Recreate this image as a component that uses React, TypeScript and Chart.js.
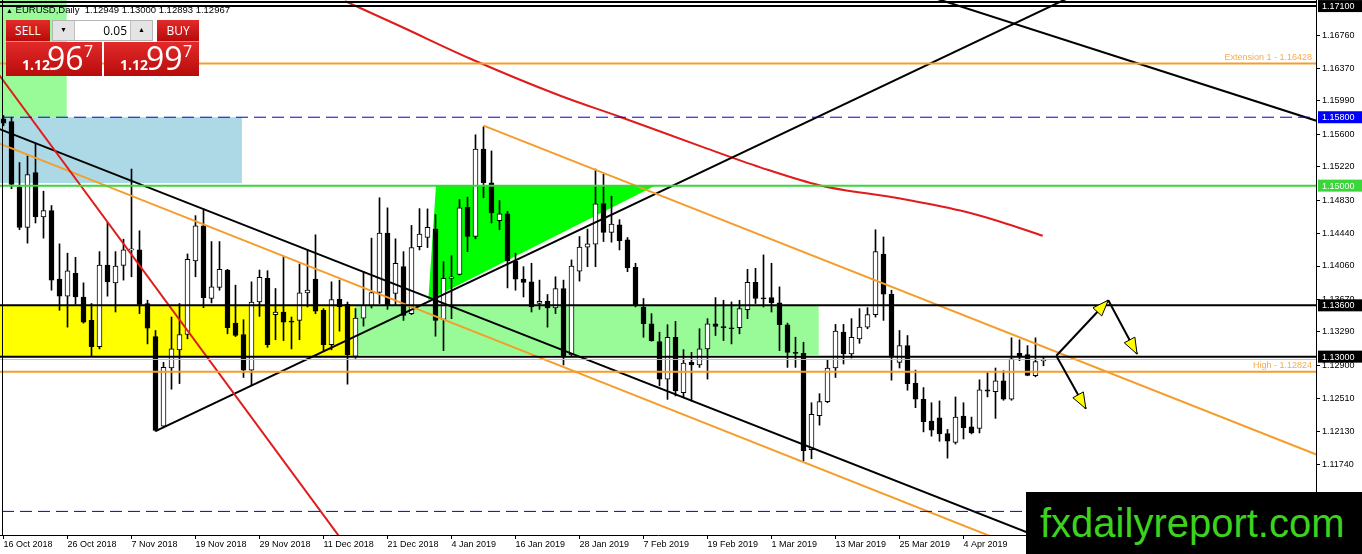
import { useEffect, useRef } from 'react';
import { Chart, registerables } from 'chart.js';

Chart.register(...registerables);

// EURUSD daily bars, 16 Oct 2018 .. 18 Apr 2019
const opens = [
  1.1578, 1.15748, 1.14987, 1.14511, 1.15152, 1.14634, 1.14708, 1.13907, 1.13707, 1.13974,
  1.13698, 1.13424, 1.13118, 1.14072, 1.13863, 1.14068, 1.14248, 1.14248, 1.13621, 1.13235,
  1.12187, 1.12867, 1.13079, 1.13259, 1.14119, 1.14531, 1.1368, 1.13809, 1.14013, 1.13392,
  1.13259, 1.12843, 1.13639, 1.13915, 1.13491, 1.13522, 1.1341, 1.13424, 1.13745, 1.13907,
  1.13542, 1.13141, 1.13671, 1.13612, 1.13003, 1.13451, 1.13593, 1.1375, 1.14445, 1.13738,
  1.14052, 1.13503, 1.14287, 1.14393, 1.14492, 1.13436, 1.13915, 1.13962, 1.14747, 1.14405,
  1.15427, 1.15034, 1.1459, 1.14669, 1.14119, 1.13907, 1.13875, 1.13621, 1.13648, 1.13569,
  1.13797, 1.1302, 1.14001, 1.1428, 1.14316, 1.1479, 1.14452, 1.14543, 1.14366, 1.14045,
  1.13581, 1.13385, 1.13177, 1.12737, 1.13227, 1.12579, 1.12933, 1.12902, 1.1309, 1.13385,
  1.13353, 1.13338, 1.13338, 1.1355, 1.13868, 1.1368, 1.13691, 1.13628, 1.13373, 1.1305,
  1.13039, 1.11913, 1.1231, 1.12473, 1.12867, 1.13286, 1.13032, 1.13208, 1.13345, 1.13491,
  1.142, 1.1373, 1.12933, 1.13129, 1.12689, 1.12502, 1.12246, 1.12285, 1.12101, 1.11998,
  1.12305, 1.12179, 1.1216, 1.12611, 1.12591, 1.12717, 1.12502, 1.13039, 1.13023, 1.12776,
  1.12949,
];
const highs = [
  1.1582, 1.158, 1.1527, 1.15348, 1.15485, 1.14935, 1.14767, 1.14319, 1.1421, 1.14162,
  1.13863, 1.13621, 1.14228, 1.1457, 1.14228, 1.14374, 1.15194, 1.14472, 1.1366, 1.13306,
  1.12933, 1.13463, 1.13621, 1.14201, 1.14649, 1.14728, 1.14346, 1.14346, 1.14021, 1.13836,
  1.13432, 1.13875, 1.14013, 1.14005, 1.13797, 1.1417, 1.13463, 1.14084, 1.14248, 1.14425,
  1.13562, 1.13875, 1.13895, 1.13639, 1.13562, 1.13993, 1.14386, 1.14858, 1.1474, 1.14378,
  1.14228, 1.14535, 1.14731, 1.14728, 1.14661, 1.14111, 1.14181, 1.14837, 1.14865, 1.15595,
  1.15689, 1.15406, 1.14826, 1.14699, 1.1421, 1.14052, 1.14092, 1.13895, 1.13727, 1.13934,
  1.13895, 1.14131, 1.14405, 1.14492, 1.15194, 1.15132, 1.14876, 1.14602, 1.14393, 1.14092,
  1.1368, 1.13503, 1.13286, 1.13373, 1.13412, 1.13082, 1.1305, 1.13326, 1.13444, 1.13691,
  1.1366, 1.1364, 1.1366, 1.14021, 1.14033, 1.1419, 1.14092, 1.13816, 1.13392, 1.13227,
  1.13168, 1.12461, 1.12567, 1.12963, 1.13377, 1.13377, 1.13444, 1.13562, 1.13573, 1.14484,
  1.144, 1.13777, 1.13306, 1.13247, 1.12843, 1.12638, 1.12461, 1.12482, 1.12148, 1.12529,
  1.12461, 1.12293, 1.12729, 1.12815, 1.12867, 1.12835, 1.1322, 1.13197, 1.13129, 1.1322,
  1.13,
];
const lows = [
  1.157, 1.14964, 1.14484, 1.14327, 1.14563, 1.14386, 1.13777, 1.13542, 1.13345, 1.13612,
  1.13392, 1.13012, 1.1309, 1.13707, 1.13522, 1.13895, 1.13934, 1.13503, 1.13149, 1.12128,
  1.12175, 1.12619, 1.12685, 1.13208, 1.13934, 1.13573, 1.13628, 1.13777, 1.13267, 1.13235,
  1.12756, 1.1267, 1.13471, 1.13109, 1.13197, 1.13188, 1.1309, 1.13197, 1.13581, 1.13503,
  1.13071, 1.13079, 1.13298, 1.12678, 1.1298, 1.13357, 1.13569, 1.13621, 1.13553, 1.13609,
  1.13424, 1.13491, 1.14248, 1.14276, 1.13239, 1.13071, 1.13444, 1.13954, 1.14228, 1.14378,
  1.14858, 1.14563, 1.14484, 1.13804, 1.13777, 1.13698, 1.13522, 1.13553, 1.13345, 1.13503,
  1.12902, 1.13012, 1.13883, 1.14052, 1.14052, 1.14346, 1.14339, 1.14248, 1.13993, 1.13581,
  1.13227, 1.1318, 1.12658, 1.125, 1.1254, 1.1252, 1.12481, 1.12874, 1.12737, 1.13247,
  1.13188, 1.13149, 1.13267, 1.13444, 1.13621, 1.13581, 1.13522, 1.13071, 1.12874, 1.12874,
  1.11783, 1.11806, 1.12199, 1.12461, 1.12756, 1.12914, 1.12984, 1.13156, 1.13326, 1.13463,
  1.13424, 1.12725, 1.12867, 1.12607, 1.12403, 1.1212, 1.1207, 1.1201, 1.11813, 1.11978,
  1.12037, 1.12096, 1.12108, 1.12529, 1.12278, 1.1249, 1.1249, 1.12953, 1.12776, 1.12764,
  1.12893,
];
const closes = [
  1.1573, 1.15014, 1.14511, 1.15128, 1.14634, 1.14708, 1.13895, 1.13707, 1.14005, 1.13698,
  1.13404, 1.13118, 1.14072, 1.13875, 1.1406, 1.14248, 1.1425, 1.13612, 1.13333, 1.12136,
  1.12874, 1.1309, 1.13259, 1.14139, 1.14531, 1.13691, 1.13816, 1.14021, 1.13338, 1.13247,
  1.12843, 1.13639, 1.13927, 1.13141, 1.13522, 1.13404, 1.13404, 1.13745, 1.13777, 1.13533,
  1.13141, 1.13668, 1.13581, 1.13023, 1.13451, 1.13601, 1.1375, 1.14445, 1.13609, 1.14092,
  1.13483, 1.14276, 1.14433, 1.14511, 1.13424, 1.13915, 1.13934, 1.1474, 1.14405, 1.15427,
  1.15034, 1.14681, 1.14669, 1.14119, 1.13907, 1.13868, 1.13581, 1.13648, 1.13569, 1.13797,
  1.13012, 1.1406, 1.1428, 1.14319, 1.14787, 1.14452, 1.14551, 1.14355, 1.1404, 1.13609,
  1.13385, 1.13188, 1.12737, 1.13227, 1.12599, 1.12926, 1.12902, 1.1309, 1.13385, 1.13353,
  1.13338, 1.13326, 1.13562, 1.13868, 1.1368, 1.13675, 1.13628, 1.13373, 1.1305, 1.13039,
  1.11901, 1.12325, 1.12473, 1.12867, 1.13298, 1.13032, 1.13227, 1.13345, 1.13491, 1.14228,
  1.1373, 1.13, 1.13129, 1.12685, 1.12502, 1.12238, 1.1214, 1.12096, 1.1201, 1.12293,
  1.1217, 1.12108, 1.12611, 1.12596, 1.12717, 1.12502, 1.12973, 1.13012, 1.1278, 1.12941,
  1.12967,
];

// one date label every 8 bars
const dateTicks = [
  '16 Oct 2018', '26 Oct 2018', '7 Nov 2018', '19 Nov 2018', '29 Nov 2018', '11 Dec 2018',
  '21 Dec 2018', '4 Jan 2019', '16 Jan 2019', '28 Jan 2019', '7 Feb 2019', '19 Feb 2019',
  '1 Mar 2019', '13 Mar 2019', '25 Mar 2019', '4 Apr 2019', '16 Apr 2019',
];
const priceTicks = [
  1.1676, 1.1637, 1.1599, 1.156, 1.1522, 1.1483, 1.1444, 1.1406, 1.1367, 1.1329, 1.129,
  1.1251, 1.1213, 1.1174, 1.1136,
];

// horizontal levels: top, fibo extension, dashed, 1.15, 1.136, 1.13, bid, high, dashed
const levelPrices = [1.171, 1.16428, 1.158, 1.15, 1.136, 1.13, 1.12967, 1.12824, 1.1119];
const boxedPrices = [1.171, 1.158, 1.15, 1.136, 1.13];

// trendlines as [barA, priceA, barB, priceB]
const trendLines = [
  [1.65, 1.16015, 22.06, 1.13424],
  [0, 1.15643, 65.8, 1.13227],
  [0, 1.15474, 87.06, 1.12246],
  [60, 1.15701, 164.06, 1.11857],
  [19, 1.12128, 133.06, 1.17193],
  [116.4, 1.17193, 164.06, 1.1576],
];
// 200-day moving average, read at a few bars
const maBars = [42.7, 49.6, 58.3, 69.6, 77.1, 87.1, 94.6, 102.1, 112.1, 119.6, 124.6, 129.9];
const maValues = [1.17158, 1.16864, 1.16487, 1.16051, 1.15803, 1.15462, 1.15214, 1.15002, 1.14849, 1.14708, 1.14578, 1.14413];

// rectangles as [barFrom, barTo, priceTop, priceBottom]
const zones = [
  [-1, 7.9, 1.175, 1.158],
  [-1, 29.8, 1.158, 1.1503],
  [-1, 43.9, 1.136, 1.13],
  [43.9, 101.9, 1.136, 1.1302],
];
const triangle = [[54.06, 1.15], [81.44, 1.15], [53.1, 1.1366]];
const arrows = [
  [131.6, 1.1301, 138.1, 1.1366],
  [138.1, 1.1366, 141.7, 1.1303],
  [131.6, 1.1301, 135.3, 1.1239],
];

const ORANGE = '#f59d2a';
const BLUE = '#0000d0';
const GREEN = '#3ad63a';
const RED = '#e01b1b';
const axisFont = { family: 'Liberation Sans', size: 9 };

export default function App() {
  const canvasRef = useRef<HTMLCanvasElement>(null);

  useEffect(() => {
    if (!canvasRef.current) return;
    const bars = opens.map((_, i) => i);
    const xMin = -0.4375;
    const xMax = 164.0625;

    const levelStyles = [
      { color: '#000', width: 2 },
      { color: ORANGE, width: 2 },
      { color: BLUE, width: 1, dash: [12, 6] },
      { color: GREEN, width: 2 },
      { color: '#000', width: 2 },
      { color: '#000', width: 2 },
      { color: '#c0c0c0', width: 1 },
      { color: ORANGE, width: 2 },
      { color: BLUE, width: 1, dash: [12, 6] },
    ];
    const trendColors = [RED, '#000', ORANGE, ORANGE, '#000', '#000'];
    const rayStart = [false, false, false, true, true, false];
    const zoneColors = ['#98fb98', '#add8e6', '#ffff00', '#98fb98'];
    const boxColors = ['#000', '#0000ff', GREEN, '#000', '#000'];

    const lineDs = (data: any[], color: string, width: number, extra: any = {}) => ({
      type: 'line', data, borderColor: color, borderWidth: width, pointRadius: 0,
      fill: false, tension: 0, order: 1, ...extra,
    });

    const datasets: any[] = [
      {
        type: 'bar',
        data: bars.map(i => ({ x: i, y: [lows[i], highs[i]] })),
        backgroundColor: '#000', borderWidth: 0, barThickness: 1, grouped: false, order: 3,
      },
      {
        type: 'bar',
        data: bars.map(i => ({ x: i, y: [Math.min(opens[i], closes[i]), Math.max(opens[i], closes[i])] })),
        backgroundColor: bars.map(i => (closes[i] >= opens[i] ? '#fff' : '#000')),
        borderColor: '#000', borderWidth: 1, borderSkipped: false, barThickness: 5,
        minBarLength: 1, grouped: false, order: 2,
      },
    ];

    levelPrices.forEach((p, k) => {
      const s = levelStyles[k];
      datasets.push(lineDs([{ x: xMin - 2, y: p }, { x: xMax + 2, y: p }], s.color, s.width, { borderDash: s.dash || [] }));
    });

    trendLines.forEach(([a, pa, b, pb], k) => {
      const slope = (pb - pa) / (b - a);
      const from = rayStart[k] ? a : -10;
      const to = 175;
      datasets.push(lineDs([
        { x: from, y: pa + (from - a) * slope },
        { x: to, y: pa + (to - a) * slope },
      ], trendColors[k], 2));
    });

    datasets.push(lineDs(maBars.map((b, k) => ({ x: b, y: maValues[k] })), RED, 2, { cubicInterpolationMode: 'monotone' }));

    const drawings = {
      id: 'drawings',
      beforeDatasetsDraw(chart: any) {
        const { ctx, chartArea: a, scales: { x, y } } = chart;
        ctx.save();
        ctx.beginPath();
        ctx.rect(a.left, a.top, a.width, a.height);
        ctx.clip();
        zones.forEach(([b0, b1, p0, p1], k) => {
          const x0 = x.getPixelForValue(b0);
          const x1 = x.getPixelForValue(b1);
          const y0 = y.getPixelForValue(p0);
          const y1 = y.getPixelForValue(p1);
          ctx.fillStyle = zoneColors[k];
          ctx.fillRect(x0, y0, x1 - x0, y1 - y0);
        });
        ctx.fillStyle = '#00ff00';
        ctx.beginPath();
        triangle.forEach(([b, p], k) => {
          const px = x.getPixelForValue(b);
          const py = y.getPixelForValue(p);
          if (k === 0) ctx.moveTo(px, py); else ctx.lineTo(px, py);
        });
        ctx.closePath();
        ctx.fill();
        ctx.restore();
      },
      afterDatasetsDraw(chart: any) {
        const { ctx, chartArea: a, scales: { x, y } } = chart;
        ctx.save();
        arrows.forEach(([b0, p0, b1, p1]) => {
          const x0 = x.getPixelForValue(b0);
          const y0 = y.getPixelForValue(p0);
          const x1 = x.getPixelForValue(b1);
          const y1 = y.getPixelForValue(p1);
          ctx.strokeStyle = '#000';
          ctx.lineWidth = 2;
          ctx.beginPath();
          ctx.moveTo(x0, y0);
          ctx.lineTo(x1, y1);
          ctx.stroke();
          const ang = Math.atan2(y1 - y0, x1 - x0);
          const bx = x1 - 16 * Math.cos(ang);
          const by = y1 - 16 * Math.sin(ang);
          const w = 6;
          ctx.beginPath();
          ctx.moveTo(x1, y1);
          ctx.lineTo(bx + w * Math.sin(ang), by - w * Math.cos(ang));
          ctx.lineTo(bx - w * Math.sin(ang), by + w * Math.cos(ang));
          ctx.closePath();
          ctx.fillStyle = '#ffff00';
          ctx.fill();
          ctx.lineWidth = 1;
          ctx.stroke();
        });
        ctx.font = '9px "Liberation Sans"';
        ctx.fillStyle = '#f2ac4e';
        ctx.textAlign = 'right';
        ctx.textBaseline = 'alphabetic';
        ctx.fillText('Extension 1 - ' + levelPrices[1].toFixed(5), a.right - 4, y.getPixelForValue(levelPrices[1]) - 4);
        ctx.fillText('High - ' + levelPrices[7].toFixed(5), a.right - 4, y.getPixelForValue(levelPrices[7]) - 4);
        ctx.restore();
      },
      afterDraw(chart: any) {
        const { ctx, chartArea: a, scales: { y } } = chart;
        ctx.save();
        ctx.fillStyle = '#000';
        ctx.fillRect(a.left, 1, a.right - a.left, 2);
        ctx.fillRect(2, a.top, 1, a.bottom - a.top);
        ctx.font = '9px "Liberation Sans"';
        ctx.textAlign = 'left';
        ctx.textBaseline = 'middle';
        boxedPrices.forEach((p, k) => {
          const py = y.getPixelForValue(p);
          const top = Math.max(0, py - 6);
          ctx.fillStyle = boxColors[k];
          ctx.fillRect(a.right + 2, top, chart.width - a.right - 2, 12);
          ctx.fillStyle = '#fff';
          ctx.fillText(p.toFixed(5), a.right + 6, top + 6.5);
        });
        ctx.restore();
      },
    };

    const chart = new Chart(canvasRef.current, {
      type: 'bar',
      data: { datasets },
      options: {
        responsive: false,
        animation: false,
        events: [],
        layout: { padding: 0 },
        plugins: { legend: { display: false }, tooltip: { enabled: false } },
        scales: {
          x: {
            type: 'linear',
            min: xMin,
            max: xMax,
            offset: false,
            afterBuildTicks: (s: any) => { s.ticks = dateTicks.map((_, k) => ({ value: k * 8 })); },
            afterFit: (s: any) => { s.height = 19; s.paddingLeft = 0; s.paddingRight = 0; },
            ticks: {
              autoSkip: false, maxRotation: 0, align: 'start', padding: 0, color: '#000', font: axisFont,
              callback: (v: any) => dateTicks[Math.round(Number(v) / 8)] ?? '',
            },
            grid: { drawOnChartArea: false, offset: false, tickLength: 4, color: '#000' },
            border: { color: '#000' },
          },
          y: {
            type: 'linear',
            position: 'right',
            min: 1.10914,
            max: 1.17171,
            afterBuildTicks: (s: any) => { s.ticks = priceTicks.map(value => ({ value })); },
            afterFit: (s: any) => { s.width = 46; s.paddingTop = 0; s.paddingBottom = 0; },
            ticks: {
              autoSkip: false, padding: 2, color: '#000', font: axisFont,
              callback: (v: any) => Number(v).toFixed(5),
            },
            grid: { drawOnChartArea: false, tickLength: 4, color: '#000' },
            border: { color: '#000' },
          },
        },
      } as any,
      plugins: [drawings],
    });

    return () => {
      chart.destroy();
    };
  }, []);

  const red = 'linear-gradient(#e32a2a, #b80b0b)';
  const white = '#fff';
  const panelFont = '"Open Sans"';

  return (
    <div style={{ position: 'fixed', left: 0, top: 0, width: 1362, height: 554, background: '#fff', overflow: 'hidden' }}>
      <canvas ref={canvasRef} width={1362} height={554} style={{ position: 'absolute', left: 0, top: 0 }} />

      <div style={{ position: 'absolute', left: 6, top: 4, font: '9.5px "Liberation Sans"', color: '#000', whiteSpace: 'pre', lineHeight: '12px' }}>
        <span style={{ fontSize: 7 }}>▲</span> EURUSD,Daily  1.12949 1.13000 1.12893 1.12967
      </div>

      <div style={{ position: 'absolute', left: 6, top: 20, width: 44, height: 22, background: red, color: white, font: `12px ${panelFont}`, lineHeight: '21px', textAlign: 'center', borderBottom: '1px solid #e88', boxSizing: 'border-box' }}>SELL</div>
      <div style={{ position: 'absolute', left: 52, top: 20, width: 101, height: 21, background: white, border: '1px solid #b5b5b5', boxSizing: 'border-box' }}>
        <div style={{ position: 'absolute', left: 0, top: 0, width: 21, height: 19, background: '#e4e4e4', borderRight: '1px solid #c0c0c0', fontSize: 7, lineHeight: '19px', textAlign: 'center' }}>▼</div>
        <div style={{ position: 'absolute', right: 25, top: 0, font: `12px ${panelFont}`, lineHeight: '19px', color: '#000' }}>0.05</div>
        <div style={{ position: 'absolute', right: 0, top: 0, width: 21, height: 19, background: '#e4e4e4', borderLeft: '1px solid #c0c0c0', fontSize: 7, lineHeight: '19px', textAlign: 'center' }}>▲</div>
      </div>
      <div style={{ position: 'absolute', left: 157, top: 20, width: 42, height: 22, background: red, color: white, font: `12px ${panelFont}`, lineHeight: '21px', textAlign: 'center', borderBottom: '1px solid #e88', boxSizing: 'border-box' }}>BUY</div>

      <div style={{ position: 'absolute', left: 6, top: 42, width: 96, height: 34, background: red, color: white, fontFamily: panelFont, lineHeight: 1 }}>
        <span style={{ position: 'absolute', left: 16, top: 16, fontSize: 14, fontWeight: 700 }}>1.12</span>
        <span style={{ position: 'absolute', left: 41, top: 0, fontSize: 32 }}>96</span>
        <span style={{ position: 'absolute', left: 78, top: 1, fontSize: 16 }}>7</span>
      </div>
      <div style={{ position: 'absolute', left: 104, top: 42, width: 95, height: 34, background: red, color: white, fontFamily: panelFont, lineHeight: 1 }}>
        <span style={{ position: 'absolute', left: 16, top: 16, fontSize: 14, fontWeight: 700 }}>1.12</span>
        <span style={{ position: 'absolute', left: 42, top: 0, fontSize: 32 }}>99</span>
        <span style={{ position: 'absolute', left: 79, top: 1, fontSize: 16 }}>7</span>
      </div>

      <div style={{ position: 'absolute', left: 1026, top: 492, width: 336, height: 62, background: '#000', color: '#3cd21e', font: '40px "Liberation Sans"', lineHeight: '62px', paddingLeft: 14, boxSizing: 'border-box', whiteSpace: 'nowrap' }}>
        fxdailyreport.com
      </div>
    </div>
  );
}
